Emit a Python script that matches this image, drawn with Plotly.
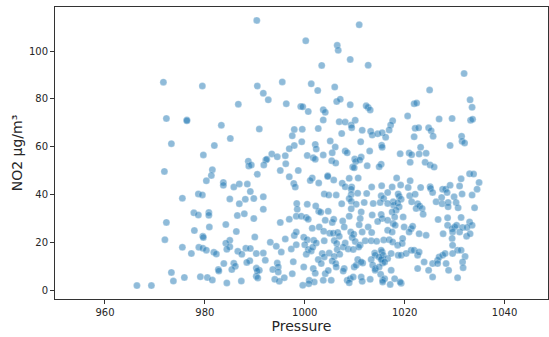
import plotly.graph_objects as go

pts = [
(990.4,112.8),(1010.9,111.0),(1000.2,104.3),(1006.5,102.4),(1006.7,100.3),(1009.1,96.5),(1003.4,94.0),(1012.7,94.1),
(1031.9,90.6),(971.7,87.0),(979.5,85.4),(990.5,85.4),(995.5,87.1),(991.7,82.4),(1001.3,86.3),(1002.6,83.5),(1006.0,85.0),
(1025.0,83.7),(992.7,79.6),(996.3,78.0),(986.7,77.8),(999.2,76.8),(999.6,76.7),(1006.4,78.9),(1007.1,79.9),(1009.1,77.6),
(1012.7,76.4),(1012.3,77.1),(1013.1,75.4),(1000.7,74.7),(1003.7,75.5),(1004.1,74.4),(1021.9,78.0),(1022.4,78.3),
(1033.1,79.6),(1033.5,76.5),(972.3,71.8),(976.4,71.2),(976.4,70.9),(983.3,69.0),(990.9,67.4),(1003.7,71.2),(1006.9,70.5),
(1008.1,70.3),(1010.1,71.1),(1009.3,69.1),(1009.4,68.0),(997.9,67.2),(999.5,67.3),(1002.7,67.6),(1007.4,65.5),(1011.5,66.9),
(1013.2,66.5),(1013.5,64.9),(1014.6,65.4),(1015.5,65.9),(997.5,64.6),(1017.6,70.9),(1017.2,69.1),(1016.9,67.0),(1020.6,72.9),
(1026.9,71.6),(1029.5,71.8),(1033.2,71.1),(1033.6,71.5),(1022.1,67.7),(1022.8,67.9),(1024.8,67.9),(1025.3,66.7),(1021.9,64.2),
(1025.7,64.4),(1016.2,64.0),(1031.4,64.4),(1031.5,62.3),(1032.0,61.6),(1029.1,60.5),(973.3,61.3),(985.1,63.5),(981.9,60.5),
(979.7,56.6),(999.4,62.1),(997.9,60.5),(996.9,59.2),(1002.1,61.0),(1002.3,59.1),(1005.1,62.4),(1006.1,59.9),(1011.2,62.1),
(1008.1,58.2),(1008.5,57.5),(1005.5,57.5),(1013.0,58.2),(1015.4,60.6),(1015.5,59.8),(1023.2,59.8),(993.4,57.0),(994.5,55.8),
(996.1,56.3),(1000.5,56.4),(1001.7,55.4),(1002.1,54.8),(1003.7,56.6),(1019.1,57.1),(1020.9,57.4),(1021.4,56.7),(1022.9,57.0),
(1024.3,57.3),(988.7,54.0),(988.8,52.0),(989.3,52.4),(992.2,54.5),(992.4,54.8),(991.8,52.4),(996.2,52.9),(1005.4,54.2),
(1006.2,53.2),(1010.0,54.9),(1010.2,53.8),(1011.3,55.7),(1011.0,54.5),(1009.6,51.5),(1009.9,51.2),(1012.5,52.1),(1015.3,52.7),
(1021.1,53.5),(1024.1,53.5),(1025.1,52.4),(1025.9,51.5),(1014.9,51.7),(971.9,49.7),(981.5,50.4),(981.3,48.0),(995.1,50.1),
(998.7,50.1),(990.5,48.5),(996.9,47.5),(1004.6,47.9),(1004.6,47.6),(1001.5,47.0),(1001.1,45.9),(1005.8,46.1),(1008.9,46.8),
(1010.7,47.0),(1018.4,47.0),(1021.1,45.8),(1031.3,46.6),(1033.0,48.7),(1033.8,48.6),(1034.9,45.1),(980.3,45.8),(983.7,45.1),
(983.7,43.9),(985.8,43.2),(986.9,44.5),(988.5,44.4),(1002.8,44.9),(997.8,44.7),(998.1,43.2),(1007.5,44.8),(1008.1,43.3),
(1009.4,43.2),(1009.3,42.3),(1013.4,43.2),(1015.4,43.7),(1017.5,43.2),(1019.2,44.0),(1020.7,43.0),(1023.2,43.0),(1025.1,43.3),
(1025.2,42.6),(1027.6,42.3),(1028.2,42.3),(1029.1,43.9),(1031.0,43.6),(1034.5,42.3),(989.1,41.3),(978.7,40.3),(979.5,39.9),
(975.5,38.5),(985.0,38.2),(988.1,38.1),(989.8,38.4),(991.7,39.1),(1003.9,40.3),(1004.8,39.8),(1006.3,39.8),(1009.3,40.1),
(1008.9,38.4),(1010.6,40.6),(1012.4,40.5),(1015.3,39.5),(1016.6,40.9),(1018.7,40.3),(1018.9,39.3),(1021.0,39.5),(1022.1,40.2),
(1025.6,40.9),(1028.5,40.9),(1027.4,38.8),(1029.9,39.1),(1031.5,40.3),(1033.5,39.8),(1015.8,38.4),(1017.7,37.0),(1019.3,38.1),
(1021.4,37.0),(1022.6,36.2),(1026.3,37.0),(1027.5,36.2),(1028.7,36.7),(1030.3,36.7),(986.9,36.2),(998.4,36.3),(1000.5,36.0),
(1007.4,36.2),(1009.3,37.2),(1011.9,36.7),(1015.1,36.7),
(991.7,33.9),(998.5,33.9),(1002.8,33.1),(1003.2,32.6),(1004.7,33.1),(1002.2,35.3),(1010.3,36.0),(1013.7,36.3),(1009.3,34.1),
(1008.9,31.0),(1011.3,32.8),(1011.1,30.0),(1013.5,31.5),(1015.3,31.7),(1015.5,30.0),(998.3,31.0),(999.3,31.0),(1000.3,30.5),
(1000.7,29.7),(996.9,29.7),(995.1,28.4),(1004.1,29.3),(1005.5,28.4),(1005.8,29.7),(1007.6,29.0),(1007.9,26.5),(1010.9,27.4),
(1012.7,26.5),(1014.6,28.8),(1001.5,26.0),(1002.9,26.5),(1003.8,24.7),(1005.0,23.9),(1005.7,23.9),(997.9,22.9),(998.3,24.4),
(999.8,22.2),(996.1,21.5),(993.1,20.1),(1006.6,24.2),(1006.9,22.6),(1009.2,24.4),(1009.8,23.5),(1009.5,22.1),(1011.5,24.4),
(1013.4,24.2),(1001.8,20.9),(1002.3,19.8),(1003.9,20.7),(1000.5,21.2),(1000.0,19.1),(1005.9,20.8),(1006.4,19.6),(1008.1,19.8),
(1010.1,20.4),(1011.1,19.0),(1012.1,20.7),(1013.3,20.7),(1014.4,20.5),(1015.8,21.1),(994.3,18.4),(995.3,16.0),(997.3,17.3),
(998.3,19.1),(1000.7,17.1),(1000.3,15.1),(1001.3,16.5),(1001.6,18.0),(1003.5,15.4),(1003.9,14.0),(1004.9,15.6),(1006.5,17.1),
(1007.0,15.1),(1005.9,14.2),(1007.7,18.1),(1008.7,17.3),(1009.7,17.1),(1010.8,18.1),(1014.0,15.6),(1014.1,14.7),(1015.5,16.0),
(991.7,15.6),(992.1,12.6),(994.5,11.4),(994.7,9.8),(997.7,12.0),(997.5,7.0),(999.8,9.8),(1001.7,9.1),(1002.1,7.2),(1002.7,12.9),
(1003.3,11.2),(1004.1,7.0),(1004.7,8.3),(1005.5,12.3),(1006.2,11.2),(1006.3,9.8),(1007.9,9.1),(1007.7,8.1),(1008.5,4.2),
(1009.1,4.9),(1009.7,5.6),(1009.9,9.8),(1010.3,10.5),(1011.6,11.4),(1010.6,12.9),(1011.3,11.9),(1013.3,12.9),(1013.6,10.6),
(1014.1,9.1),(1015.5,13.3),(1015.6,11.4),(990.9,8.4),(993.6,8.7),(994.7,7.7),(994.0,4.6),(994.9,3.8),(995.9,5.3),(999.6,2.1),
(1000.9,4.2),(1001.9,3.5),(1003.7,4.2),(1005.3,4.2),(1011.3,5.6),(1011.5,3.8),(1013.1,4.6),(1014.1,8.4),(1015.2,6.7),(1015.6,4.2),
(1000.8,2.8),(1008.9,3.2),(1017.1,2.5),(1019.3,3.0),
(977.8,32.4),(978.7,31.5),(980.8,32.5),(980.8,31.4),(986.5,31.3),(987.9,32.0),(989.8,30.0),(972.3,28.4),(984.2,27.5),(980.9,26.5),
(977.9,25.0),(986.3,24.6),(979.6,22.6),(979.7,22.1),(990.0,22.3),(972.0,21.2),(985.0,20.9),(984.2,19.7),(985.0,18.2),(984.4,17.2),
(975.5,18.0),(978.8,18.0),(979.6,17.6),(980.3,16.8),(977.3,15.4),(981.8,15.9),(982.3,15.2),(986.6,16.3),(987.4,15.1),(988.2,17.6),
(989.1,17.5),(990.3,15.4),(989.0,12.4),(988.4,11.7),(983.8,11.2),(985.8,11.3),(986.1,10.1),(985.4,8.7),(982.7,8.7),(982.8,8.1),
(990.3,9.3),(990.5,8.1),(990.3,5.9),(990.6,5.2),(973.3,7.5),(973.7,3.9),(975.9,5.4),(979.1,5.7),(980.5,5.4),(981.5,4.3),
(984.4,3.1),(987.3,3.9),(966.4,2.0),(969.3,2.0),
(1016.6,36.3),(1017.8,35.6),(1018.6,36.6),(1018.9,34.9),(1018.3,33.5),(1022.3,34.2),(1023.0,35.3),(1023.5,34.2),(1023.7,31.8),
(1028.7,34.9),(1030.7,34.5),(1034.0,34.5),(1017.5,32.8),(1018.0,30.7),(1016.6,29.3),(1017.7,27.9),(1018.1,27.2),(1019.7,30.7),
(1019.9,26.5),(1021.3,25.8),(1021.6,26.8),(1016.6,25.1),(1017.5,24.4),(1020.9,24.4),(1022.9,23.7),(1024.3,23.0),(1028.6,30.3),
(1026.7,29.6),(1031.3,30.5),(1033.0,28.6),(1033.5,27.2),(1028.6,27.2),(1029.5,25.8),(1030.0,26.5),(1030.4,27.2),(1031.0,24.4),
(1031.6,26.3),(1032.5,26.3),(1027.7,23.7),(1029.6,24.4),(1029.5,21.7),(1032.4,22.6),(1033.1,23.7),(1029.6,18.9),(1016.9,21.2),
(1017.6,20.2),(1018.6,18.9),(1019.5,19.6),(1019.6,21.7),(1015.3,16.8),(1015.7,14.7),(1014.9,14.0),(1016.6,13.3),(1017.3,15.4),
(1018.7,14.7),(1019.3,14.7),(1020.3,15.4),(1021.3,16.8),(1021.9,16.8),(1022.6,14.7),(1022.9,16.0),(1023.9,11.9),(1022.6,9.1),
(1025.6,11.2),(1024.8,8.4),(1025.6,5.6),(1026.6,12.6),(1026.9,14.0),(1027.6,14.7),(1026.6,11.2),(1028.3,11.2),(1028.8,8.4),
(1028.1,15.4),(1029.6,15.4),(1030.6,16.8),(1031.3,16.8),(1032.1,14.2),(1031.6,11.9),(1031.7,9.5),(1030.6,5.3),(1015.3,12.9),
(1016.0,11.9),(1014.9,9.8),(1017.3,8.4),(1016.0,4.9),(1015.6,3.5),(1018.0,4.9),(1019.1,3.5),
]

pressure = [p for p, _ in pts]
no2 = [n for _, n in pts]

x_ticks = [960, 980, 1000, 1020, 1040]
y_ticks = [0, 20, 40, 60, 80, 100]

fig = go.Figure(go.Scatter(
    x=pressure, y=no2, mode="markers",
    marker=dict(size=7, color="rgba(31,119,180,0.5)", line=dict(width=0.4, color="rgba(255,255,255,0.6)")),
    showlegend=False,
))

axis_common = dict(
    showline=True, linecolor="#333333", linewidth=1, mirror=True,
    ticks="outside", ticklen=4, tickcolor="#333333", tickwidth=1,
    showgrid=False, zeroline=False,
    tickfont=dict(family="DejaVu Sans", size=10, color="#262626"),
)

fig.update_layout(
    width=549, height=337,
    margin=dict(l=55, r=1, t=7, b=38),
    paper_bgcolor="white", plot_bgcolor="white",
    xaxis=dict(range=[950, 1048.7], tickvals=x_ticks,
               title=dict(text="Pressure", font=dict(family="DejaVu Sans", size=14, color="#262626"), standoff=3),
               **axis_common),
    yaxis=dict(range=[-3.6, 118.4], tickvals=y_ticks,
               title=dict(text="NO2 µg/m³", font=dict(family="DejaVu Sans", size=14, color="#262626"), standoff=3),
               **axis_common),
)

fig.write_html("out.html")
